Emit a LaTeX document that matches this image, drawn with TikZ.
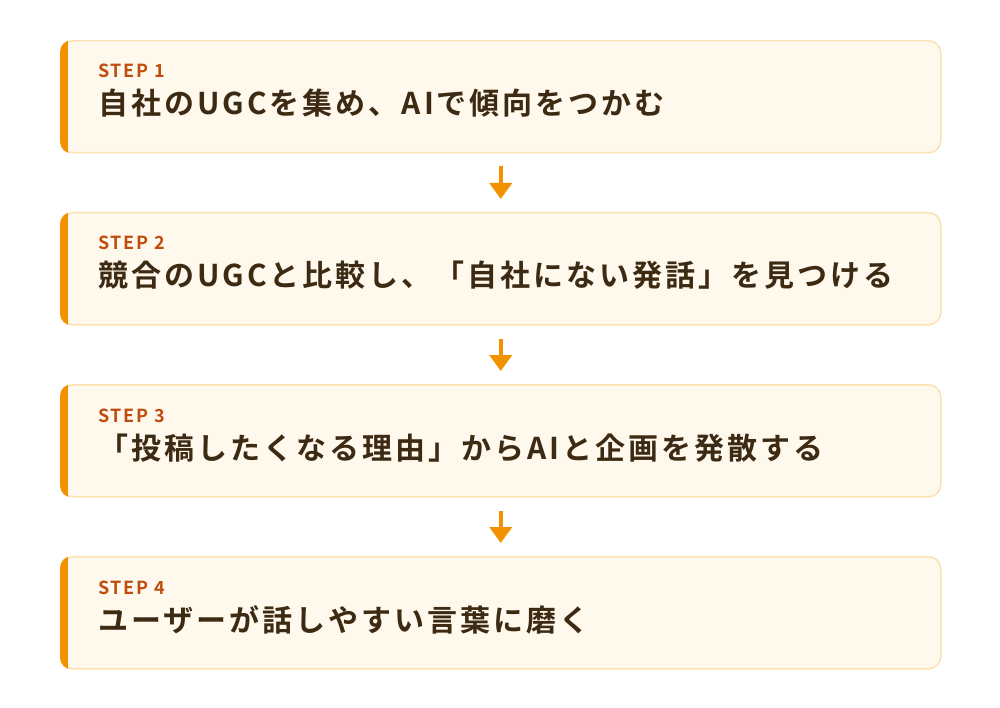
\documentclass[tikz,border=0pt]{standalone}
\usepackage{fontspec}
\newfontfamily\jpfont{Noto Sans CJK JP Bold}[LetterSpace=10]
\newfontfamily\labelfont{Noto Sans CJK JP Bold}[LetterSpace=10]
\usetikzlibrary{arrows.meta}
\definecolor{barorange}{HTML}{F39200}
\definecolor{boxfill}{HTML}{FFF8EC}
\definecolor{boxline}{HTML}{FCE1B2}
\definecolor{steptext}{HTML}{BF4E0E}
\definecolor{maintext}{HTML}{3C2A13}
\begin{document}
\begin{tikzpicture}[x=1pt,y=-1pt,
    stepbox/.style={draw=boxline, fill=boxfill, line width=1.5pt, rounded corners=12pt,
        minimum width=880pt, minimum height=112pt, inner sep=0pt, anchor=north west},
    steplabel/.style={anchor=base west, inner sep=0pt, text=steptext,
        font=\labelfont\fontsize{18}{20}\selectfont},
    steptitle/.style={anchor=base west, inner sep=0pt, text=maintext,
        font=\jpfont\fontsize{30}{34}\selectfont},
    flow/.style={draw=barorange, line width=4pt, -{Triangle[width=22pt,length=16pt]},
        shorten <=13pt, shorten >=13pt}]
    \useasboundingbox (0,0) rectangle (1000,708);
\foreach \i\t in {1/{自社のUGCを集め、AIで傾向をつかむ},
    2/{競合のUGCと比較し、「自社にない発話」を見つける},
    3/{「投稿したくなる理由」からAIと企画を発散する},
    4/{ユーザーが話しやすい言葉に磨く}}{
    \node[stepbox] (box\i) at (60, 172*\i - 132) {};
    \begin{scope}
        \clip[rounded corners=12pt] (box\i.north west) rectangle (box\i.south east);
        \fill[barorange] (box\i.north west) rectangle ([xshift=8pt]box\i.south west);
    \end{scope}
    \node[steplabel] (label\i) at (98, 172*\i - 94) {STEP \i};
    \node[steptitle] (title\i) at (98, 172*\i - 57) {\t};
}

\foreach \i\j in {1/2,2/3,3/4}{
    \draw[flow] (box\i.south) -- (box\j.north);
}
\end{tikzpicture}
\end{document}
